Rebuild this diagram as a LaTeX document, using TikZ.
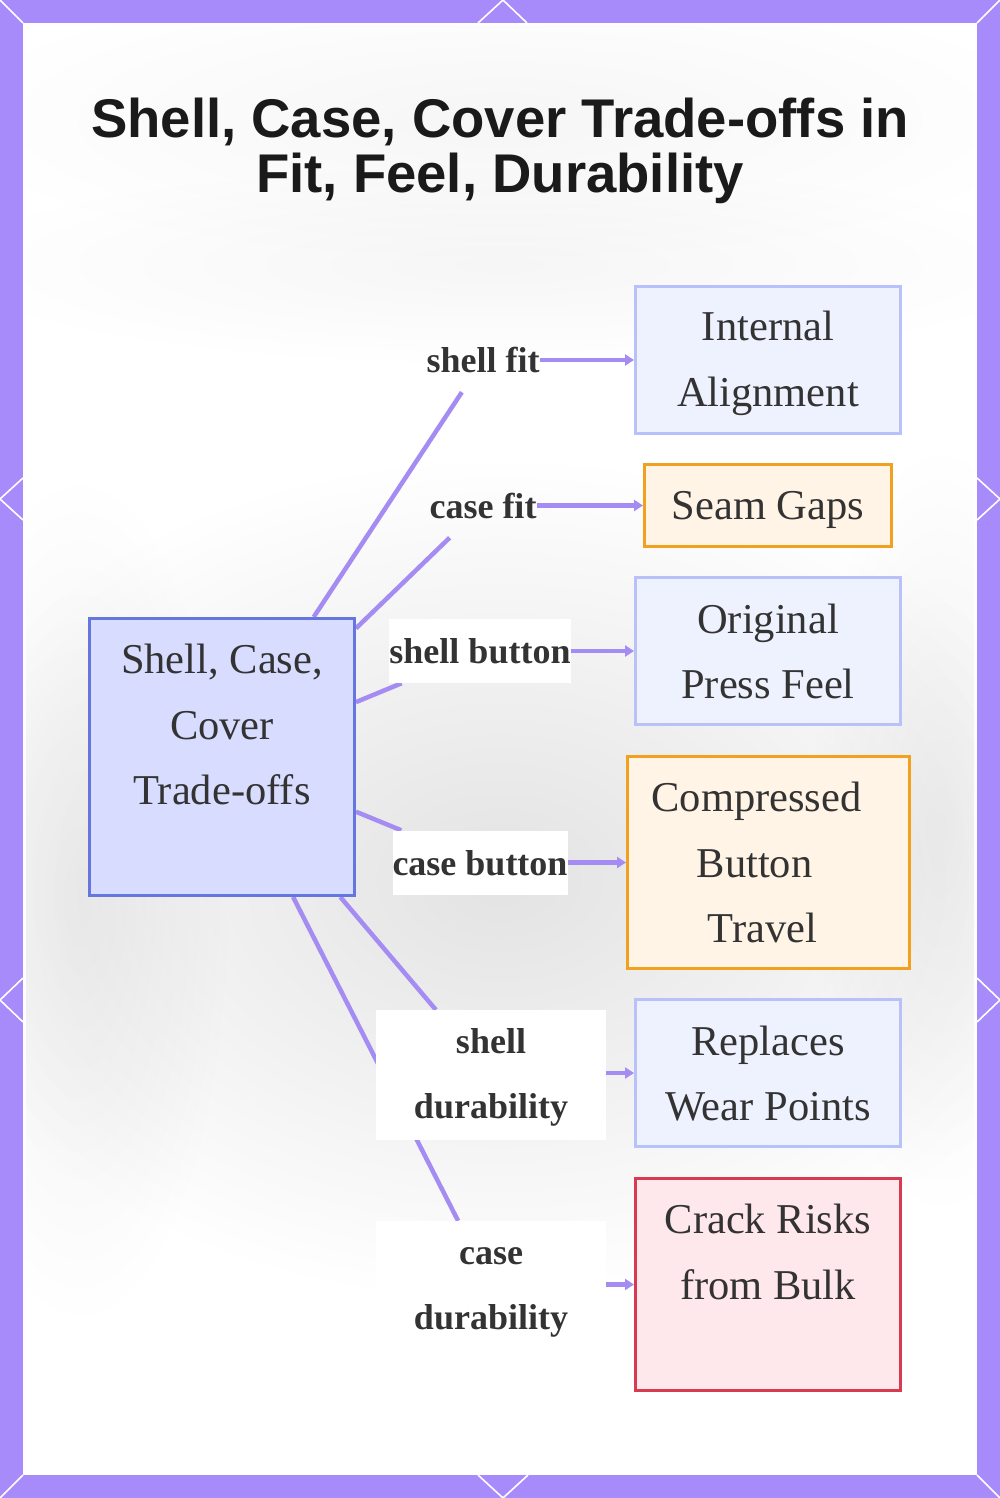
\documentclass[tikz,border=0pt]{standalone}
\usepackage{fontspec}
\setmainfont{Liberation Serif}
\newfontfamily\titlefont{Liberation Sans}
\usetikzlibrary{arrows.meta,fadings}
\pgfdeclarelayer{bg}
\pgfdeclarelayer{edges}
\pgfsetlayers{bg,edges,main}
\definecolor{framec}{HTML}{A78BFA}
\definecolor{arrowc}{HTML}{A48CF2}
\definecolor{bluefill}{HTML}{EEF1FE}
\definecolor{blueline}{HTML}{B8C1FA}
\definecolor{orangefill}{HTML}{FFF4E5}
\definecolor{orangeline}{HTML}{F2A11F}
\definecolor{redfill}{HTML}{FFE8EC}
\definecolor{redline}{HTML}{D83A50}
\definecolor{centerfill}{HTML}{D8DCFE}
\definecolor{centerline}{HTML}{6576DE}
\definecolor{textc}{HTML}{333333}
\definecolor{titlec}{HTML}{1A1A1A}
\tikzfading[name=softblob, inner color=transparent!0, outer color=transparent!100]
\newcommand{\sk}{\rule[-0.15em]{0pt}{1em}}
\tikzset{
  box/.style={rectangle, line width=3pt, text=textc, align=center,
    font=\fontsize{42.5}{65.5}\selectfont, inner sep=0pt},
  bluebox/.style={box, draw=blueline, fill=bluefill},
  orangebox/.style={box, draw=orangeline, fill=orangefill},
  redbox/.style={box, draw=redline, fill=redfill},
  centerbox/.style={box, draw=centerline, fill=centerfill},
  lbl/.style={rectangle, text=textc, align=center, inner xsep=0pt, inner ysep=0pt,
    minimum height=64pt, font=\bfseries\fontsize{36}{65}\selectfont},
  lblbg/.style={lbl, fill=white},
  lbltwo/.style={lblbg, text width=230pt, minimum height=130pt},
  conn/.style={draw=arrowc, line width=4.5pt},
  arr/.style={conn, -{Triangle[length=9pt,width=11pt]}},
  deco/.style={draw=white, line width=1.6pt},
  blob/.style={fill=gray, path fading=softblob, fit fading=true}
}
\begin{document}
\begin{tikzpicture}[x=1pt,y=-1pt]
\useasboundingbox (0,0) rectangle (1000,1498);
\begin{pgfonlayer}{bg}
  \fill[framec] (0,0) rectangle (1000,1498);
  \fill[white] (23,23) rectangle (977,1475);
  \begin{scope}
    \clip (26,26) rectangle (974,1472);
    \fill[blob, fill opacity=0.22] (500,880) ellipse (600pt and 420pt);
    \fill[blob, fill opacity=0.12] (80,900) ellipse (150pt and 420pt);
    \fill[blob, fill opacity=0.12] (940,830) ellipse (130pt and 380pt);
    \fill[blob, fill opacity=0.07] (500,120) ellipse (560pt and 140pt);
    \fill[blob, fill opacity=0.07] (500,265) ellipse (560pt and 100pt);
  \end{scope}
  % frame decorations
  \draw[deco] (0,0) -- (23,23);
  \draw[deco] (1000,0) -- (977,23);
  \draw[deco] (0,1498) -- (23,1475);
  \draw[deco] (1000,1498) -- (977,1475);
  \draw[deco] (478,23) -- (503,0) -- (527,23);
  \draw[deco] (478,1475) -- (503,1498) -- (528,1475);
  \draw[deco] (23,478) -- (0,499) -- (23,520);
  \draw[deco] (23,978) -- (0,1000) -- (23,1022);
  \draw[deco] (977,478) -- (1000,499) -- (977,520);
  \draw[deco] (977,978) -- (1000,1000) -- (977,1022);
\end{pgfonlayer}

\node[font=\titlefont\bfseries\fontsize{54.5}{55}\selectfont, align=center, text=titlec, inner sep=0pt] (title) at (500,151) {Shell, Case, Cover Trade-offs in\\Fit, Feel, Durability};

\node[centerbox, minimum width=265pt, minimum height=277pt] (c) at (222,757) {\sk Shell, Case,\\\sk Cover\\\sk Trade-offs\\\sk~};

\node[bluebox, minimum width=265pt, minimum height=147pt] (t1) at (768,360) {\sk Internal\\\sk Alignment};
\node[orangebox, minimum width=247pt, minimum height=82pt] (t2) at (768,505.5) {\sk Seam Gaps};
\node[bluebox, minimum width=265pt, minimum height=147pt] (t3) at (768,651) {\sk Original\\\sk Press Feel};
\node[orangebox, minimum width=282pt, minimum height=212pt] (t4) at (768.5,862.5) {\mbox{\sk Compressed\hspace{24pt}}\\\mbox{\sk Button\hspace{28pt}}\\\mbox{\sk Travel\hspace{12pt}}};
\node[bluebox, minimum width=265pt, minimum height=147pt] (t5) at (768,1073) {\sk Replaces\\\sk Wear Points};
\node[redbox, minimum width=265pt, minimum height=212pt] (t6) at (768,1284.5) {\sk Crack Risks\\\sk from Bulk\\\sk~};

\node[lbl] (l1) at (483,360) {\sk shell fit};
\node[lbl] (l2) at (483,505.5) {\sk case fit};
\node[lblbg] (l3) at (480,651) {\sk shell button};
\node[lblbg] (l4) at (480,862.5) {\sk case button};
\node[lbltwo] (l5) at (491,1075) {\sk shell\\\sk durability};
\node[lbltwo] (l6) at (491,1286) {\sk case\\\sk durability};

\begin{pgfonlayer}{edges}
  \draw[conn] (c) -- (l1);
  \draw[conn] (c) -- (l2);
  \draw[conn] (c) -- (l3);
  \draw[conn] (c) -- (l4);
  \draw[conn] (c) -- (l5);
  \draw[conn] (c) -- (l6);
\end{pgfonlayer}

\draw[arr] (l1) -- (t1);
\draw[arr] (l2) -- (t2);
\draw[arr] (l3) -- (t3);
\draw[arr] (l4) -- (t4);
\draw[arr] (l5.east |- t5) -- (t5);
\draw[arr] (l6.east |- t6) -- (t6);
\end{tikzpicture}
\end{document}
